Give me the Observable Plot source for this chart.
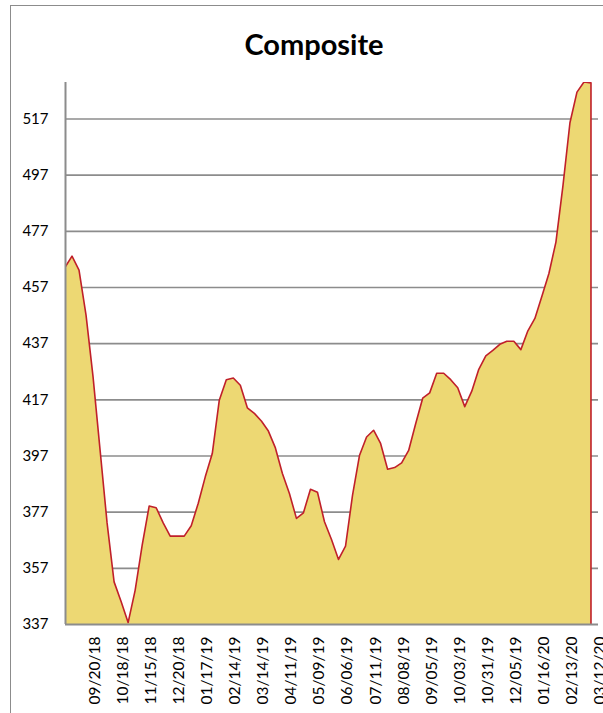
<!DOCTYPE html>
<html><head><meta charset="utf-8">
<script src="https://cdn.jsdelivr.net/npm/d3@7"></script>
<script src="https://cdn.jsdelivr.net/npm/@observablehq/plot@0.6"></script>
<style>
html,body{margin:0;padding:0;background:#fff;}
#wrap{position:relative;width:603px;height:713px;overflow:hidden;font-family:Lato,"Open Sans",sans-serif;}
#frame{position:absolute;left:10px;top:5px;width:700px;height:800px;border-left:1.5px solid #8c8c8c;border-top:1.5px solid #8c8c8c;box-sizing:border-box;}
#title{position:absolute;left:0;width:628px;top:29px;text-align:center;font-weight:700;font-size:29px;line-height:1;color:#000;}
#chart{position:absolute;left:0;top:0;}
</style></head>
<body><div id="wrap"><div id="frame"></div><div id="chart"></div><div id="title">Composite</div></div>
<script>
// Weekly composite values (one per category, left to right)
const values = [
  464, 468, 463, 447, 425, 399, 373, 352, 345, 337.5,
  349, 365, 379, 378.4, 373, 368.3, 368.3, 368.3, 372, 380,
  389.4, 397.7, 416.7, 424, 424.6, 422, 414, 412, 409.3, 405.7,
  399.7, 390.6, 383.5, 374.6, 376.6, 385, 383.9, 373.4, 367.1, 360,
  364.7, 382.9, 397.1, 403.6, 406, 401.3, 392.1, 392.7, 394.4, 398.8,
  408.3, 417.4, 419.3, 426.3, 426.3, 424, 421.1, 414.4, 419.9, 427.7,
  432.5, 434.4, 436.6, 437.7, 437.7, 434.7, 441.4, 445.8, 453.7, 461.8,
  473, 493, 515.5, 526.4, 530, 529.7
];
// Category labels shown on the x axis (every 4th category)
const xTickLabels = [
  "09/20/18","10/18/18","11/15/18","12/20/18","01/17/19","02/14/19","03/14/19",
  "04/11/19","05/09/19","06/06/19","07/11/19","08/08/19","09/05/19","10/03/19",
  "10/31/19","12/05/19","01/16/20","02/13/20","03/12/20"
];
const labelEvery = 4;
const yTicks = [337, 357, 377, 397, 417, 437, 457, 477, 497, 517];
const yMax = 530;

const data = values.map((v, i) => ({i, v}));
const tickIdx = xTickLabels.map((_, k) => labelEvery * (k + 1));

const plot = Plot.plot({
  width: 603, height: 713,
  marginLeft: 65, marginRight: 5, marginTop: 82, marginBottom: 89,
  style: {fontFamily: "Lato, 'Open Sans', sans-serif", fontSize: "15px", color: "#000", background: "transparent", overflow: "visible"},
  x: {domain: [0, xTickLabels.length * labelEvery], axis: null},
  y: {domain: [yTicks[0], yMax], axis: null},
  marks: [
    Plot.gridY(yTicks.slice(1), {stroke: "#8c8c8c", strokeOpacity: 1, strokeWidth: 1.6}),
    Plot.areaY(data, {x: "i", y: "v", fill: "#EDD873", stroke: "#C0202A", strokeWidth: 1.6, clip: true}),
    Plot.ruleX([0], {stroke: "#8c8c8c", strokeWidth: 2}),
    Plot.ruleY([yTicks[0]], {stroke: "#8c8c8c", strokeWidth: 2}),
    Plot.axisY(yTicks, {tickSize: 0, tickPadding: 17, fontSize: 15, fill: "#000", label: null}),
    Plot.axisX(tickIdx, {tickSize: 0, tickPadding: 12, tickRotate: -90, fontSize: 15.5, fill: "#000", label: null, dx: 1.5,
      tickFormat: d => xTickLabels[d / labelEvery - 1]})
  ]
});
document.getElementById("chart").appendChild(plot);
</script>
</body></html>
